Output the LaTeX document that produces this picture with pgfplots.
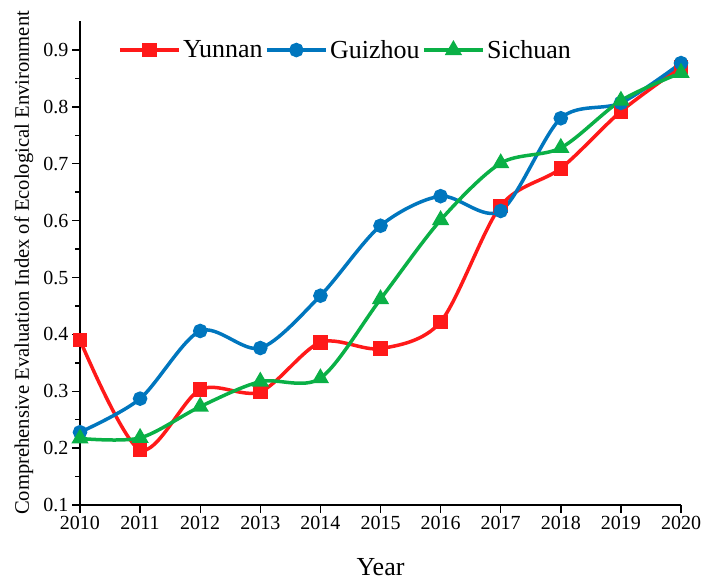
\documentclass[border=0pt]{standalone}
\usepackage{fontspec}
\setmainfont{Liberation Serif}
\usepackage{pgfplots}
\pgfplotsset{compat=1.18}
\definecolor{cR}{RGB}{255,25,25}
\definecolor{cB}{RGB}{0,118,190}
\definecolor{cG}{RGB}{10,176,70}
\begin{document}
\begin{tikzpicture}
\path[use as bounding box] (-80pt,-76pt) rectangle (623pt,505pt);
\begin{axis}[
  at={(0pt,0pt)}, anchor=south west,
  scale only axis, width=601pt, height=484pt,
  xmin=2010, xmax=2020, ymin=0.1, ymax=0.951,
  axis x line*=bottom, axis y line*=left,
  axis line style={line width=1.5pt, black},
  xtick={2010,2011,2012,2013,2014,2015,2016,2017,2018,2019,2020},
  ytick={0.1,0.2,0.3,0.4,0.5,0.6,0.7,0.8,0.9},
  minor y tick num=1,
  tick align=outside,
  major tick length=8pt, minor tick length=5pt,
  every tick/.style={line width=1.4pt, black},
  /pgf/number format/assume math mode=true,
  x tick label style={/pgf/number format/1000 sep={}},
  y tick label style={/pgf/number format/.cd, fixed, fixed zerofill, precision=1},
  tick label style={font=\fontsize{20}{24}\selectfont},
  xlabel={Year},
  ylabel={Comprehensive Evaluation Index of Ecological Environment},
  every axis x label/.style={at={(axis description cs:0.5,0)}, anchor=base, yshift=-70pt, font=\fontsize{26}{30}\selectfont},
  every axis y label/.style={at={(axis description cs:-0.0849,0.5)}, anchor=base, rotate=90, font=\fontsize{20.6}{24}\selectfont},
  legend style={at={(axis description cs:0.0632,0.940)}, anchor=west, draw=none, fill=none,
    inner sep=0pt, font=\fontsize{26}{30}\selectfont,
    nodes={inner sep=2.5pt},
    /tikz/every even column/.append style={column sep=0pt}},
  legend columns=-1,
  legend image code/.code={\draw[mark repeat=2,mark phase=2] plot coordinates {(0pt,0pt) (29.5pt,0pt) (59pt,0pt)};},
  every axis plot/.append style={line width=3.5pt, smooth},
]
\addplot[cR, mark=square*, mark size=5.5pt, mark options={solid}] coordinates {
(2010,0.390) (2011,0.197) (2012,0.303) (2013,0.299) (2014,0.386) (2015,0.375)
(2016,0.422) (2017,0.626) (2018,0.692) (2019,0.792) (2020,0.870)};
\addlegendentry{Yunnan}
\addplot[cB, mark=*, mark size=5.5pt] coordinates {
(2010,0.228) (2011,0.287) (2012,0.406) (2013,0.376) (2014,0.468) (2015,0.591)
(2016,0.643) (2017,0.617) (2018,0.780) (2019,0.807) (2020,0.877)};
\addlegendentry{Guizhou}
\addplot[cG, mark=triangle*, mark size=6.5pt] coordinates {
(2010,0.217) (2011,0.218) (2012,0.273) (2013,0.317) (2014,0.323) (2015,0.462)
(2016,0.601) (2017,0.701) (2018,0.728) (2019,0.811) (2020,0.860)};
\addlegendentry{Sichuan}
\end{axis}
\end{tikzpicture}
\end{document}
